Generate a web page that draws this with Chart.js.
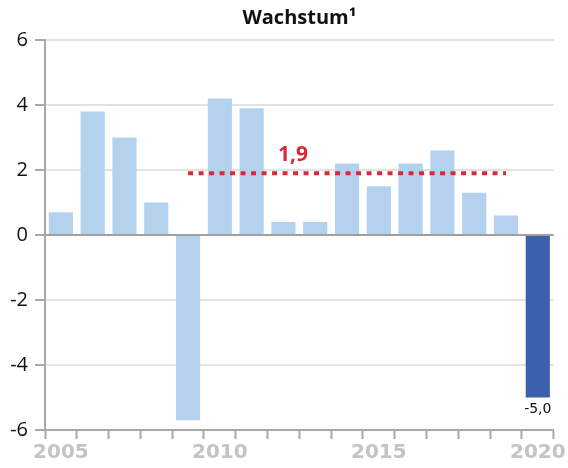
<!DOCTYPE html>
<html>
<head>
<meta charset="utf-8">
<script src="https://cdn.jsdelivr.net/npm/chart.js@4"></script>
<style>
  html, body { margin: 0; padding: 0; background: #fff; }
  #wrap { width: 568px; height: 468px; }
</style>
</head>
<body>
<div id="wrap"><canvas id="chart"></canvas></div>
<script>
const years = ["2005","2006","2007","2008","2009","2010","2011","2012","2013","2014","2015","2016","2017","2018","2019","2020"];
const growth = [0.7, 3.8, 3.0, 1.0, -5.7, 4.2, 3.9, 0.4, 0.4, 2.2, 1.5, 2.2, 2.6, 1.3, 0.6, -5.0];
const average = [null, null, null, null, 1.9, 1.9, 1.9, 1.9, 1.9, 1.9, 1.9, 1.9, 1.9, 1.9, 1.9, null];
const yTicks = [-6, -4, -2, 0, 2, 4, 6];
const shownYears = ["2005", "2010", "2015", "2020"];

const barColors = growth.map((v, i) => i === growth.length - 1 ? "#3b60ae" : "#b4d2ee");

const labelPlugin = {
  id: "labels",
  afterDatasetsDraw(chart) {
    const ctx = chart.ctx;
    const x = chart.scales.x, y = chart.scales.y;
    const area = chart.chartArea;
    ctx.save();
    // title, centred over the plot area
    ctx.fillStyle = "#111";
    ctx.font = "bold 20px 'Open Sans'";
    ctx.textAlign = "center";
    ctx.textBaseline = "middle";
    ctx.fillText("Wachstum¹", (area.left + area.right) / 2, 18);
    // last bar value
    const last = growth.length - 1;
    ctx.font = "14px 'DejaVu Sans'";
    ctx.textBaseline = "top";
    ctx.fillText(growth[last].toFixed(1).replace(".", ","), x.getPixelForValue(last), y.getPixelForValue(growth[last]) + 5);
    // average label
    ctx.fillStyle = "#d42a3c";
    ctx.font = "bold 21px 'Open Sans'";
    ctx.textBaseline = "bottom";
    const step = x.getPixelForValue(1) - x.getPixelForValue(0);
    ctx.fillText("1,9", x.getPixelForValue(7) + step * 0.3, y.getPixelForValue(1.9) - 8);
    ctx.restore();
  }
};

new Chart(document.getElementById("chart"), {
  type: "bar",
  data: {
    labels: years,
    datasets: [
      {
        type: "line",
        data: average,
        borderColor: "#d42a3c",
        borderWidth: 4,
        borderDash: [5, 5.5],
        pointRadius: 0,
        fill: false,
        order: 0
      },
      {
        data: growth,
        backgroundColor: barColors,
        barPercentage: 0.76,
        categoryPercentage: 1,
        order: 1
      }
    ]
  },
  options: {
    responsive: true,
    maintainAspectRatio: false,
    animation: false,
    layout: { padding: { left: 0, right: 12, top: 40, bottom: 0 } },
    plugins: {
      legend: { display: false },
      tooltip: { enabled: false },
      title: { display: false }
    },
    scales: {
      x: {
        offset: true,
        afterFit: s => { s.height = 38; },
        border: { color: "#a8a8a8", width: 2 },
        grid: {
          offset: true,
          drawOnChartArea: false,
          drawTicks: true,
          tickLength: 9,
          tickColor: "#a8a8a8",
          tickWidth: 2
        },
        ticks: {
          autoSkip: false,
          maxRotation: 0,
          padding: 2,
          color: "#c4c4c4",
          font: { family: "'DejaVu Sans'", size: 20, weight: "bold" },
          callback: function (v) {
            const lab = this.getLabelForValue(v);
            return shownYears.includes(lab) ? lab : "";
          }
        }
      },
      y: {
        min: -6,
        max: 6,
        afterFit: s => { s.width = 45; },
        afterBuildTicks: s => { s.ticks = yTicks.map(v => ({ value: v })); },
        border: { color: "#a8a8a8", width: 2 },
        grid: {
          color: c => c.tick && c.tick.value === 0 ? "#a0a0a0" : "#e2e2e2",
          lineWidth: 2,
          tickLength: 10,
          tickColor: "#a8a8a8",
          tickWidth: 2
        },
        ticks: {
          padding: 7,
          color: "#111",
          font: { family: "'Open Sans'", size: 20 }
        }
      }
    }
  },
  plugins: [labelPlugin]
});
</script>
</body>
</html>
